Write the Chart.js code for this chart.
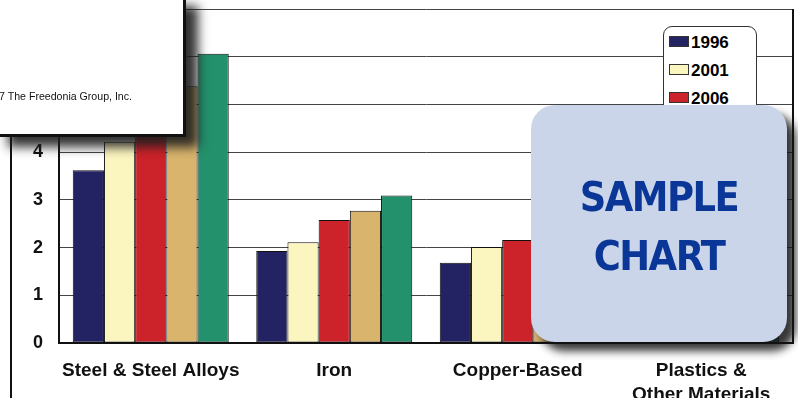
<!DOCTYPE html>
<html>
<head>
<meta charset="utf-8">
<script src="https://cdn.jsdelivr.net/npm/chart.js@4/dist/chart.umd.min.js"></script>
<style>
    body { margin: 0; background: #fff; }
    #wrap { position: relative; width: 798px; height: 398px; overflow: hidden; font-family: "Liberation Sans", Arial, sans-serif; }
    #chart { position: absolute; left: 0; top: 0; }
    #legend { position: absolute; left: 663px; top: 26px; width: 92px; height: 146px; background: #fff; border: 1.5px solid #333; border-radius: 9px; }
    #legend .item { position: absolute; left: 5px; height: 20px; line-height: 20px; font-weight: bold; font-size: 17px; color: #000; }
    #legend .sw { display: inline-block; width: 18px; height: 9px; border: 1px solid #333; margin-right: 2px; vertical-align: 1px; }
    #note { position: absolute; left: -4px; top: -4px; width: 184px; height: 135px; background: #fff; border: 3px solid #111; box-shadow: 12px 10px 10px rgba(30,30,30,0.9); overflow: hidden; }
    #note span { position: absolute; right: 51px; top: 91px; font-size: 10.6px; white-space: nowrap; color: #111; }
    #sample { position: absolute; left: 531px; top: 105px; width: 256px; height: 237px; background: #cad5e9; border-radius: 24px; box-shadow: 9px 9px 9px rgba(20,20,20,0.85); text-align: center; }
    #sample div { position: absolute; left: 0; width: 100%; font-family: "DejaVu Sans Condensed", "DejaVu Sans", sans-serif; font-stretch: condensed; font-weight: bold; font-size: 41px; letter-spacing: -1.5px; color: #0a3797; }
</style>
</head>
<body>
<div id="wrap">
    <canvas id="chart" width="798" height="398"></canvas>
    <div id="legend"></div>
    <div id="note"><span>© 2007 The Freedonia Group, Inc.</span></div>
    <div id="sample"><div style="top:68px">SAMPLE</div><div style="top:127px">CHART</div></div>
</div>
<script>
var categories = ['Steel & Steel Alloys', 'Iron', 'Copper-Based', ['Plastics &', 'Other Materials']];
var years = ['1996', '2001', '2006', '2011', '2016'];
var values1996 = [3.62, 1.93, 1.68, 1.2];
var values2001 = [4.22, 2.11, 2.01, 1.5];
var values2006 = [4.8, 2.58, 2.16, 1.85];
var values2011 = [5.38, 2.77, 2.45, 2.2];
var values2016 = [6.06, 3.09, 2.75, 2.6];
var yMin = 0;
var yMax = 7;
var yStep = 1;

var seriesValues = [values1996, values2001, values2006, values2011, values2016];
var seriesColors = ['#232262', '#fbf5c0', '#cc2229', '#d8b46c', '#23916b'];

var datasets = years.map(function (year, i) {
    return {
        label: year,
        data: seriesValues[i],
        backgroundColor: seriesColors[i],
        borderColor: '#111',
        borderWidth: 1,
        borderSkipped: false,
        categoryPercentage: 0.85,
        barPercentage: 1
    };
});

// legend sits inside the plot, so build it by hand
var legendBox = document.getElementById('legend');
years.forEach(function (year, i) {
    var item = document.createElement('div');
    item.className = 'item';
    item.style.top = (6 + i * 28) + 'px';
    item.innerHTML = '<span class="sw" style="background:' + seriesColors[i] + '"></span>' + year;
    legendBox.appendChild(item);
});

var framePlugin = {
    id: 'frame',
    afterDraw: function (chart) {
        var ctx = chart.ctx;
        var a = chart.chartArea;
        ctx.save();
        ctx.strokeStyle = '#111';
        ctx.lineWidth = 2;
        ctx.beginPath();
        ctx.moveTo(a.right, a.top);
        ctx.lineTo(a.right, a.bottom);
        ctx.moveTo(11, 0);
        ctx.lineTo(11, chart.height);
        ctx.stroke();
        ctx.restore();
    }
};

var ctx = document.getElementById('chart').getContext('2d');
var materialsChart = new Chart(ctx, {
    type: 'bar',
    data: {
        labels: categories,
        datasets: datasets
    },
    options: {
        responsive: false,
        animation: false,
        layout: {
            padding: { top: 9, right: 5, left: 0, bottom: 0 }
        },
        plugins: {
            legend: { display: false },
            tooltip: { enabled: false }
        },
        scales: {
            x: {
                grid: { display: false },
                border: { color: '#111', width: 2 },
                ticks: {
                    color: '#111',
                    padding: 7,
                    maxRotation: 0,
                    autoSkip: false,
                    font: { family: 'Liberation Sans', weight: 'bold', size: 19, lineHeight: 1.3 }
                },
                afterFit: function (scale) {
                    scale.height = 55;
                    scale.paddingLeft = 0;
                    scale.paddingRight = 0;
                }
            },
            y: {
                min: yMin,
                max: yMax,
                grid: { color: '#444', lineWidth: 1, drawTicks: false },
                border: { color: '#111', width: 2 },
                ticks: {
                    stepSize: yStep,
                    color: '#111',
                    padding: 16,
                    font: { family: 'Liberation Sans', weight: 'bold', size: 18 }
                },
                afterFit: function (scale) {
                    scale.width = 59;
                    scale.paddingTop = 0;
                    scale.paddingBottom = 0;
                }
            }
        }
    },
    plugins: [framePlugin]
});
</script>
</body>
</html>
